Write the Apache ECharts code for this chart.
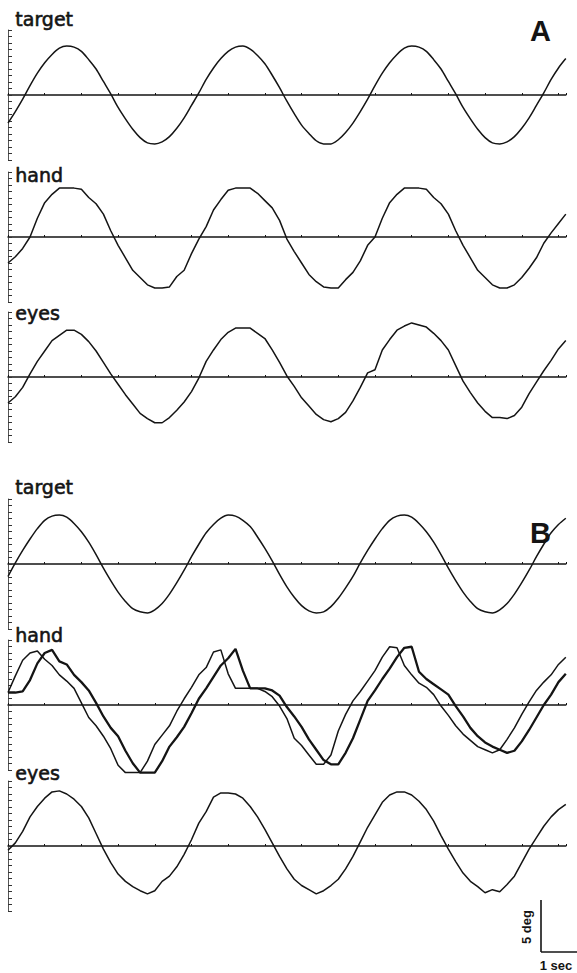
<!DOCTYPE html>
<html>
<head>
<meta charset="utf-8">
<style>
  html, body { margin: 0; padding: 0; background: #fff; }
  #main { width: 577px; height: 973px; }
</style>
<script src="https://cdn.jsdelivr.net/npm/echarts@6/dist/echarts.min.js"></script>
</head>
<body>
<div id="main"></div>
<script>
// time axis (sec), one sample every 0.2 s
var times = [0, 0.2, 0.4, 0.6, 0.8, 1, 1.2, 1.4, 1.6, 1.8, 2, 2.2, 2.4, 2.6, 2.8, 3, 3.2, 3.4, 3.6, 3.8,
  4, 4.2, 4.4, 4.6, 4.8, 5, 5.2, 5.4, 5.6, 5.8, 6, 6.2, 6.4, 6.6, 6.8, 7, 7.2, 7.4, 7.6, 7.8,
  8, 8.2, 8.4, 8.6, 8.8, 9, 9.2, 9.4, 9.6, 9.8, 10, 10.2, 10.4, 10.6, 10.8, 11, 11.2, 11.4, 11.6, 11.8,
  12, 12.2, 12.4, 12.6, 12.8, 13, 13.2, 13.4, 13.6, 13.8, 14, 14.2, 14.4, 14.6, 14.8, 15, 15.2];

// positions in deg
// A
var targetA = [-2.7, -1.6, -0.4, 0.9, 2.1, 3.1, 3.9, 4.5, 4.7, 4.6, 4.2, 3.4, 2.5, 1.3, 0.1, -1.2, -2.3, -3.3, -4.1, -4.6,
  -4.7, -4.5, -4.0, -3.2, -2.2, -1.0, 0.2, 1.5, 2.6, 3.5, 4.2, 4.6, 4.7, 4.4, 3.8, 3.0, 1.9, 0.7, -0.6, -1.8,
  -2.9, -3.7, -4.4, -4.7, -4.7, -4.3, -3.6, -2.7, -1.6, -0.4, 0.9, 2.1, 3.1, 3.9, 4.5, 4.7, 4.6, 4.2, 3.4, 2.5,
  1.3, 0.1, -1.2, -2.3, -3.3, -4.1, -4.6, -4.7, -4.5, -4.0, -3.2, -2.2, -1.0, 0.2, 1.5, 2.6, 3.5];
var handA = [-2.5, -1.9, -1.1, 0.0, 1.8, 3.3, 4.1, 4.7, 4.7, 4.7, 4.6, 3.8, 3.2, 2.2, 0.6, -0.8, -2.0, -3.2, -3.9, -4.6,
  -4.9, -4.9, -4.8, -3.8, -3.2, -1.6, -0.2, 1.0, 2.6, 3.6, 4.5, 4.7, 4.7, 4.7, 4.2, 3.5, 2.8, 1.6, -0.2, -1.4,
  -2.5, -3.6, -4.3, -4.8, -4.9, -4.9, -4.1, -3.4, -2.3, -0.8, 0.0, 1.8, 3.3, 4.1, 4.7, 4.7, 4.7, 4.6, 3.8, 3.2,
  2.2, 0.6, -0.8, -2.0, -3.2, -3.9, -4.6, -4.9, -4.9, -4.6, -3.9, -3.0, -2.0, -0.6, 0.4, 1.3, 2.2];
var eyesA = [-2.5, -1.9, -1.0, 0.3, 1.5, 2.5, 3.5, 4.0, 4.5, 4.5, 4.1, 3.4, 2.5, 1.4, 0.3, -0.7, -1.7, -2.6, -3.5, -4.0,
  -4.4, -4.4, -3.9, -3.2, -2.4, -1.4, -0.1, 1.5, 2.6, 3.6, 4.3, 4.7, 4.7, 4.7, 4.2, 3.7, 2.6, 1.4, 0.1, -0.9,
  -2.0, -2.8, -3.6, -4.1, -4.3, -4.0, -3.4, -2.3, -1.0, 0.4, 0.7, 2.6, 3.6, 4.5, 4.9, 5.2, 5.0, 4.8, 4.2, 3.5,
  2.6, 1.1, -0.4, -1.5, -2.5, -3.3, -3.9, -3.9, -4.0, -3.7, -2.9, -1.6, -0.5, 0.6, 1.6, 2.7, 3.5];
// B
var targetB = [-1.2, 0.1, 1.3, 2.4, 3.4, 4.2, 4.6, 4.7, 4.5, 3.9, 3.1, 2.1, 0.9, -0.4, -1.6, -2.7, -3.6, -4.3, -4.6, -4.7,
  -4.4, -3.8, -2.9, -1.8, -0.6, 0.7, 1.9, 3.0, 3.8, 4.4, 4.7, 4.6, 4.2, 3.6, 2.6, 1.5, 0.3, -1.0, -2.2, -3.2,
  -4.0, -4.5, -4.7, -4.6, -4.1, -3.3, -2.3, -1.2, 0.1, 1.3, 2.4, 3.4, 4.2, 4.6, 4.7, 4.5, 3.9, 3.1, 2.1, 0.9,
  -0.4, -1.6, -2.7, -3.6, -4.3, -4.6, -4.7, -4.4, -3.8, -2.9, -1.8, -0.6, 0.7, 1.9, 3.0, 3.8, 4.4];
var handBThin = [1.2, 2.8, 4.3, 5.0, 5.2, 4.4, 3.8, 2.9, 2.3, 1.6, 0.2, -1.2, -2.0, -3.0, -4.2, -5.8, -6.5, -6.5, -6.5, -5.4,
  -3.8, -2.9, -2.0, -0.6, 0.6, 1.7, 2.9, 3.6, 5.1, 5.3, 3.0, 1.6, 1.6, 1.6, 1.6, 1.3, 0.8, -0.1, -1.3, -3.2,
  -3.9, -4.8, -5.7, -5.7, -4.8, -2.5, -0.9, 0.4, 1.3, 2.3, 3.3, 4.6, 5.6, 5.5, 3.8, 2.9, 2.1, 1.7, 1.0, -0.1,
  -1.0, -2.0, -2.8, -3.4, -4.0, -4.3, -4.6, -4.3, -3.3, -2.2, -0.9, 0.3, 1.4, 2.2, 2.9, 3.9, 4.6];
var handBThick = [1.2, 1.2, 1.3, 2.4, 4.0, 5.0, 5.3, 4.2, 3.9, 2.9, 2.2, 1.4, 0.2, -1.1, -2.2, -3.0, -4.4, -5.6, -6.5, -6.5,
  -6.5, -5.4, -4.0, -3.1, -2.1, -0.8, 0.6, 1.6, 2.7, 3.8, 4.5, 5.4, 3.3, 1.6, 1.6, 1.6, 1.4, 0.9, -0.2, -1.1,
  -2.1, -3.3, -4.3, -5.3, -5.7, -5.7, -4.6, -3.2, -1.4, 0.4, 1.4, 2.5, 3.5, 4.6, 5.5, 5.6, 3.2, 2.5, 2.0, 1.5,
  1.0, -0.1, -1.1, -2.2, -3.0, -3.6, -4.0, -4.3, -4.6, -4.4, -3.5, -2.4, -1.2, 0.0, 1.0, 2.2, 3.0];
var eyesB = [-0.4, 0.3, 1.4, 2.8, 3.8, 4.6, 5.2, 5.3, 5.0, 4.5, 3.8, 2.7, 1.2, -0.3, -1.6, -2.7, -3.4, -3.9, -4.3, -4.6,
  -4.3, -3.4, -2.9, -2.0, -0.8, 0.6, 2.2, 3.3, 4.7, 5.1, 5.1, 5.0, 4.6, 3.8, 2.8, 1.6, 0.3, -1.0, -2.2, -3.2,
  -3.8, -4.2, -4.6, -4.3, -3.8, -3.2, -2.2, -1.0, 0.4, 1.8, 3.0, 4.2, 4.9, 5.2, 5.2, 4.9, 4.3, 3.5, 2.4, 1.0,
  -0.3, -1.5, -2.6, -3.4, -3.9, -4.5, -4.2, -4.4, -3.7, -2.9, -1.6, -0.3, 0.8, 1.9, 2.8, 3.5, 4.0];

// panel layout: y pixel of the zero line and label baseline
var panels = [
  { label: 'target', zero: 95, base: 24.5, traces: [targetA] },
  { label: 'hand', zero: 237, base: 180, traces: [handA] },
  { label: 'eyes', zero: 377, base: 318, traces: [eyesA] },
  { label: 'target', zero: 564, base: 492, traces: [targetB] },
  { label: 'hand', zero: 705, base: 640, traces: [handBThin, handBThick] },
  { label: 'eyes', zero: 846, base: 778, traces: [eyesB] }
];

var ink = '#141414';
var chart = echarts.init(document.getElementById('main'), null, { renderer: 'svg' });

var grids = [], xAxes = [], yAxes = [], series = [], graphics = [];
panels.forEach(function (p, i) {
  grids.push({ left: 8, right: 11.2, top: p.zero - 65, height: 130 });
  xAxes.push({
    type: 'value', gridIndex: i, min: 0, max: 15.2, interval: 1,
    axisLine: { onZero: true, lineStyle: { color: ink, width: 1.5 } },
    axisTick: { inside: true, length: 2, lineStyle: { color: ink, width: 1 } },
    axisLabel: { show: false },
    splitLine: { show: false }
  });
  yAxes.push({
    type: 'value', gridIndex: i, min: -6.25, max: 6.25, interval: 0.625,
    axisLine: { show: true, onZero: false, lineStyle: { color: '#555', width: 1 } },
    axisTick: { show: true, inside: true, length: 4, lineStyle: { color: '#333', width: 1 } },
    axisLabel: { show: false },
    splitLine: { show: false }
  });
  p.traces.forEach(function (vals, j) {
    series.push({
      type: 'line', xAxisIndex: i, yAxisIndex: i,
      data: times.map(function (t, k) { return [t, vals[k]]; }),
      showSymbol: false, clip: false,
      smooth: p.label === 'target' ? 0.3 : false,
      lineStyle: { color: ink, width: j === 1 ? 2.3 : 1.5 }
    });
  });
  graphics.push({
    type: 'text', left: 15, top: p.base - 15,
    style: { text: p.label, font: '19px "DejaVu Sans"', fill: ink, stroke: ink, lineWidth: 0.6 }
  });
});

graphics.push({ type: 'text', left: 530, top: 16, style: { text: 'A', font: 'bold 29px "Liberation Sans"', fill: ink } });
graphics.push({ type: 'text', left: 530, top: 518, style: { text: 'B', font: 'bold 29px "Liberation Sans"', fill: ink } });

chart.setOption({
  animation: false,
  backgroundColor: '#fff',
  grid: grids,
  xAxis: xAxes,
  yAxis: yAxes,
  series: series,
  graphic: graphics
});

// scale bar: 1 sec and 5 deg measured on the last panel's axes
var finder = { xAxisIndex: 5, yAxisIndex: 5 };
var p0 = chart.convertToPixel(finder, [0, 0]);
var p1 = chart.convertToPixel(finder, [1, 5]);
var secPx = p1[0] - p0[0];
var degPx = p0[1] - p1[1];
var cx = 541, cy = 952;
chart.setOption({
  graphic: graphics.concat([
    { type: 'line', shape: { x1: cx, y1: cy - degPx, x2: cx, y2: cy }, style: { stroke: ink, lineWidth: 1.6 } },
    { type: 'line', shape: { x1: cx, y1: cy, x2: cx + secPx, y2: cy }, style: { stroke: ink, lineWidth: 1.6 } },
    { type: 'text', x: 526, y: 927, rotation: Math.PI / 2,
      style: { text: '5 deg', font: 'bold 13px "Liberation Sans"', fill: ink, textAlign: 'center', textVerticalAlign: 'middle' } },
    { type: 'text', x: 556, y: 965,
      style: { text: '1 sec', font: 'bold 13px "Liberation Sans"', fill: ink, textAlign: 'center', textVerticalAlign: 'middle' } }
  ])
});
</script>
</body>
</html>
